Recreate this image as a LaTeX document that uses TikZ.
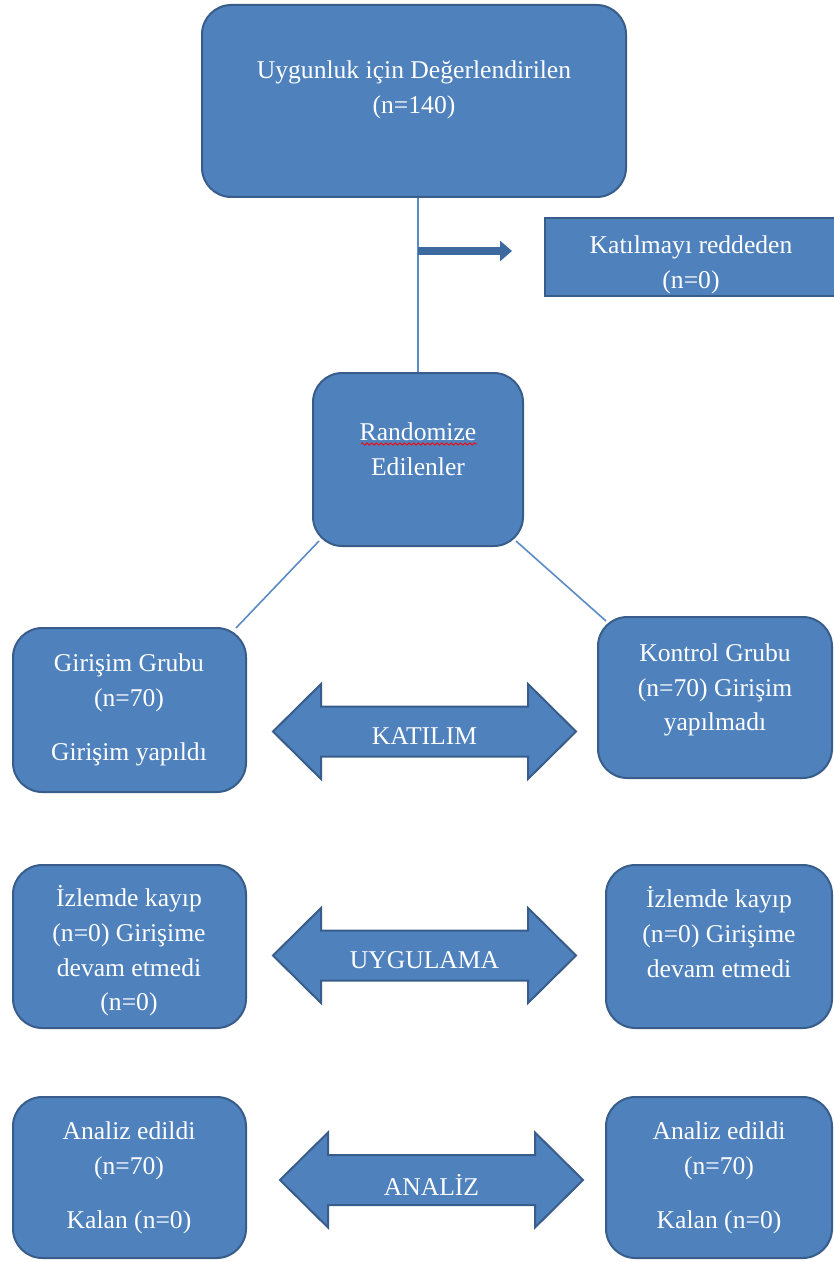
\documentclass[tikz,border=0pt]{standalone}
\usepackage{fontspec}
\setmainfont{Liberation Serif}
\usetikzlibrary{fit,arrows.meta,decorations.pathmorphing}
\definecolor{boxfill}{HTML}{4F81BD}
\definecolor{boxline}{HTML}{385D8A}
\definecolor{linkline}{HTML}{5B8BC6}
\definecolor{pointerblue}{HTML}{3C6A9E}
\tikzset{
  bluebox/.style={draw=boxline, fill=boxfill, line width=1.5pt,
    rounded corners=22pt, inner sep=0pt},
  flatbox/.style={bluebox, rounded corners=0pt},
  boxtext/.style={text=white, align=center,
    font=\fontsize{19.2}{26}\selectfont},
  phase/.style={draw=boxline, fill=boxfill, line width=1.5pt, line join=miter},
  link/.style={draw=linkline, line width=1.2pt},
  pointer/.style={draw=pointerblue, line width=6pt,
    -{Triangle[length=9pt, width=15pt]}}
}
\begin{document}
\begin{tikzpicture}[x=0.75pt, y=-0.75pt]
  \useasboundingbox (0,0) rectangle (834,1262);
  % boxes
  \node[bluebox, fit={(202,5) (626,197)}] (assess) {};
  \node[flatbox, fit={(545,218) (842,296)}] (decline) {};
  \node[bluebox, fit={(313,373) (523,546)}] (rand) {};
  \node[bluebox, fit={(13,628) (246,792)}] (grpA) {};
  \node[bluebox, fit={(598,617) (832,778)}] (grpB) {};
  \node[bluebox, fit={(13,865) (246,1028)}] (lossA) {};
  \node[bluebox, fit={(606,865) (832,1028)}] (lossB) {};
  \node[bluebox, fit={(13,1097) (246,1258)}] (anaA) {};
  \node[bluebox, fit={(606,1097) (832,1258)}] (anaB) {};
  % box texts
  \node[boxtext] (assess-t) at (414,90) {Uygunluk için Değerlendirilen\\(n=140)};
  \node[boxtext] (decline-t) at (691,265) {Katılmayı reddeden\\(n=0)};
  \node[boxtext] (rand-t) at (418,449) {Randomize\\Edilenler};
  \node[boxtext] (grpA-t) at (129,710) {Girişim Grubu\\(n=70)\\[15pt]Girişim yapıldı};
  \node[boxtext] (grpB-t) at (715,690) {Kontrol Grubu\\(n=70) Girişim\\yapılmadı};
  \node[boxtext] (lossA-t) at (129,951) {İzlemde kayıp\\(n=0) Girişime\\devam etmedi\\(n=0)};
  \node[boxtext] (lossB-t) at (719,932) {İzlemde kayıp\\(n=0) Girişime\\devam etmedi};
  \node[boxtext] (anaA-t) at (129,1178) {Analiz edildi\\(n=70)\\[15pt]Kalan (n=0)};
  \node[boxtext] (anaB-t) at (719,1178) {Analiz edildi\\(n=70)\\[15pt]Kalan (n=0)};
  % spell check mark
  \draw[red, line width=0.6pt, decorate,
    decoration={snake, amplitude=0.9pt, segment length=3.5pt}] (361,444) -- (477,444);
  % phase arrows
  \foreach \cx/\cy/\lab/\nm in {424.5/731.5/KATILIM/join,
      424.5/955.5/UYGULAMA/apply, 431.5/1180/ANALİZ/analysis} {
    \draw[phase] ({\cx-151.5},\cy) -- ({\cx-103.5},{\cy-47.5})
      -- ({\cx-103.5},{\cy-25}) -- ({\cx+103.5},{\cy-25})
      -- ({\cx+103.5},{\cy-47.5}) -- ({\cx+151.5},\cy)
      -- ({\cx+103.5},{\cy+47.5}) -- ({\cx+103.5},{\cy+25})
      -- ({\cx-103.5},{\cy+25}) -- ({\cx-103.5},{\cy+47.5}) -- cycle;
    \node[boxtext] (\nm) at (\cx,{\cy+5}) {\lab};
  }
  % connectors
  \draw[link] (rand.north |- assess.south) -- (rand.north);
  \coordinate (fork) at (418,251);
  \coordinate (forktip) at (512,251);
  \draw[pointer] (fork) -- (forktip);
  \draw[link] ([shift={(7,-6)}]rand.south west) -- ([shift={(-11,1)}]grpA.north east);
  \draw[link] ([shift={(-8,-6)}]rand.south east) -- ([shift={(9,5)}]grpB.north west);
\end{tikzpicture}
\end{document}
